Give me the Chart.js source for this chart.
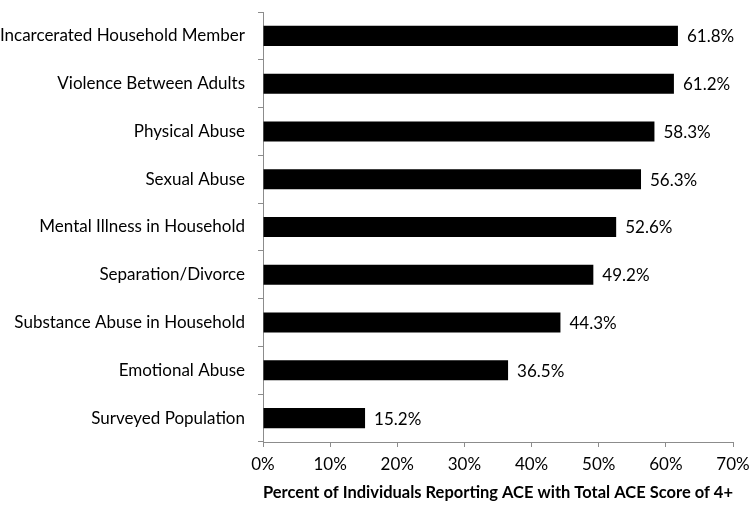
<!DOCTYPE html>
<html>
<head>
<meta charset="utf-8">
<script src="https://cdn.jsdelivr.net/npm/chart.js@4"></script>
<style>
  html, body { margin: 0; padding: 0; background: #fff; }
  #wrap { width: 750px; height: 505px; }
</style>
</head>
<body>
<div id="wrap"><canvas id="ace-chart"></canvas></div>
<script>
var categories = [
    'Incarcerated Household Member',
    'Violence Between Adults',
    'Physical Abuse',
    'Sexual Abuse',
    'Mental Illness in Household',
    'Separation/Divorce',
    'Substance Abuse in Household',
    'Emotional Abuse',
    'Surveyed Population'
];
var percentages = [61.8, 61.2, 58.3, 56.3, 52.6, 49.2, 44.3, 36.5, 15.2];
var axisTitle = 'Percent of Individuals Reporting ACE with Total ACE Score of 4+';

var fontFamily = 'Lato, "Open Sans", sans-serif';
var axisColor = '#8c8c8c';

// draws the "61.8%" labels at the end of each bar
var valueLabels = {
    id: 'valueLabels',
    afterDatasetsDraw: function (chart) {
        var ctx = chart.ctx;
        var meta = chart.getDatasetMeta(0);
        ctx.save();
        ctx.font = '17px ' + fontFamily;
        ctx.fillStyle = '#000';
        ctx.textAlign = 'left';
        ctx.textBaseline = 'middle';
        meta.data.forEach(function (bar, i) {
            ctx.fillText(percentages[i].toFixed(1) + '%', bar.x + 9, bar.y + 1);
        });
        ctx.restore();
    }
};

const chart = document.getElementById('ace-chart');

new Chart(chart, {
    type: 'bar',
    data: {
        labels: categories,
        datasets: [{
            label: 'Percent',
            data: percentages,
            backgroundColor: '#000',
            borderWidth: 0,
            categoryPercentage: 1,
            barPercentage: 0.42
        }]
    },
    options: {
        indexAxis: 'y',
        responsive: true,
        maintainAspectRatio: false,
        animation: false,
        layout: {
            padding: { top: 12, right: 17, left: 0, bottom: 0 }
        },
        plugins: {
            legend: { display: false },
            tooltip: { enabled: false }
        },
        scales: {
            x: {
                min: 0,
                max: 70,
                afterFit: function (scale) {
                    scale.height = 63;
                    scale.paddingLeft = 0;
                    scale.paddingRight = 0;
                },
                ticks: {
                    stepSize: 10,
                    padding: 7,
                    color: '#000',
                    font: { family: fontFamily, size: 17 },
                    callback: function (v) { return v + '%'; }
                },
                grid: {
                    drawOnChartArea: false,
                    drawTicks: true,
                    tickLength: 5,
                    color: axisColor
                },
                border: { display: true, color: axisColor },
                title: {
                    display: true,
                    text: axisTitle,
                    color: '#000',
                    font: { family: fontFamily, size: 16.8, weight: 'bold' },
                    padding: { top: 0, bottom: 2 }
                }
            },
            y: {
                afterFit: function (scale) {
                    scale.width = 263;
                    scale.paddingTop = 0;
                    scale.paddingBottom = 0;
                },
                ticks: {
                    padding: 13,
                    color: '#000',
                    font: { family: fontFamily, size: 17 }
                },
                grid: {
                    offset: true,
                    drawOnChartArea: false,
                    drawTicks: true,
                    tickLength: 5,
                    color: axisColor
                },
                border: { display: true, color: axisColor }
            }
        }
    },
    plugins: [valueLabels]
});
</script>
</body>
</html>
